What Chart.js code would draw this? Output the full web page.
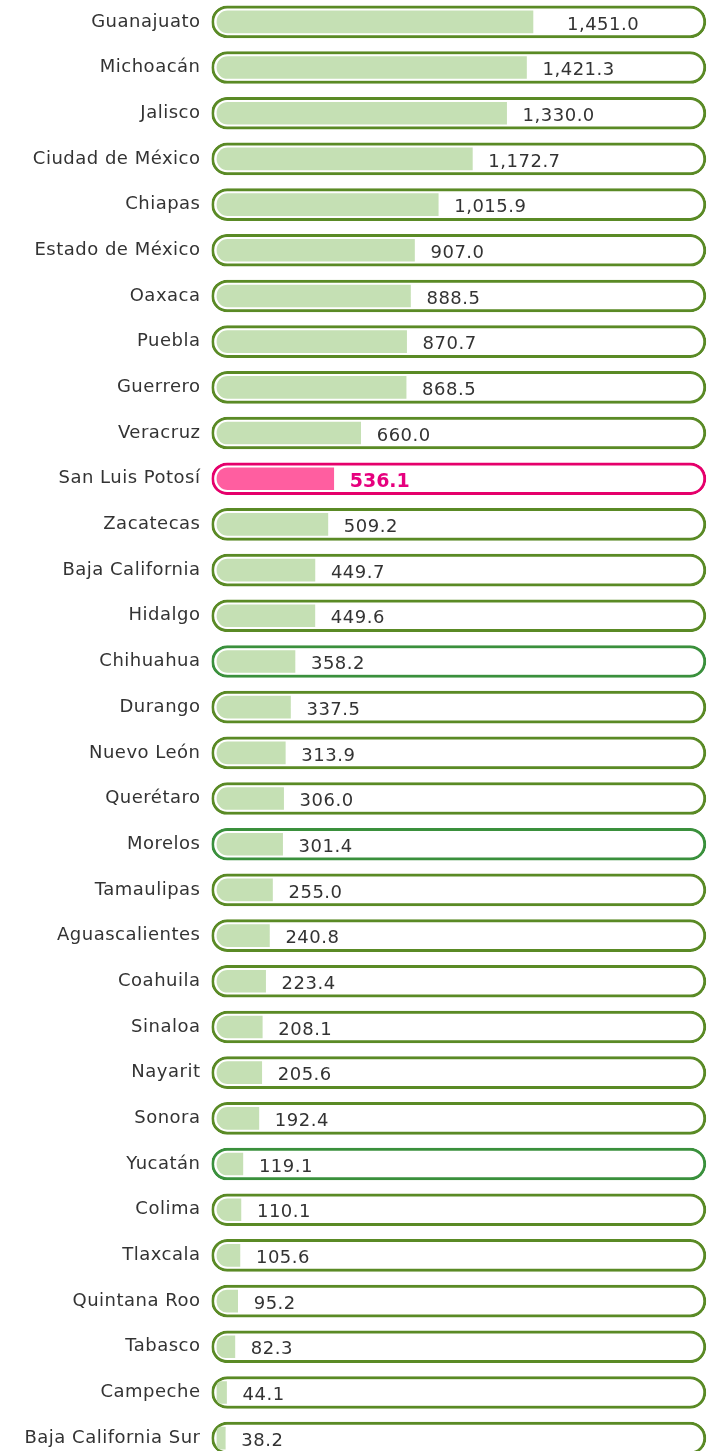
<!DOCTYPE html>
<html>
<head>
<meta charset="utf-8">
<script src="https://cdn.jsdelivr.net/npm/chart.js@4"></script>
<style>
  html, body { margin: 0; padding: 0; background: #fff; overflow: hidden; }
  .wrap { position: absolute; left: 0; top: -1px; width: 707px; height: 1462px; }
</style>
</head>
<body>
<div class="wrap"><canvas id="chartStates"></canvas></div>
<script>
const states = [
  "Guanajuato", "Michoacán", "Jalisco", "Ciudad de México", "Chiapas",
  "Estado de México", "Oaxaca", "Puebla", "Guerrero", "Veracruz",
  "San Luis Potosí", "Zacatecas", "Baja California", "Hidalgo", "Chihuahua",
  "Durango", "Nuevo León", "Querétaro", "Morelos", "Tamaulipas",
  "Aguascalientes", "Coahuila", "Sinaloa", "Nayarit", "Sonora",
  "Yucatán", "Colima", "Tlaxcala", "Quintana Roo", "Tabasco",
  "Campeche", "Baja California Sur",
];
const values = [
  1451.0, 1421.3, 1330.0, 1172.7, 1015.9,
  907.0, 888.5, 870.7, 868.5, 660.0,
  536.1, 509.2, 449.7, 449.6, 358.2,
  337.5, 313.9, 306.0, 301.4, 255.0,
  240.8, 223.4, 208.1, 205.6, 192.4,
  119.1, 110.1, 105.6, 95.2, 82.3,
  44.1, 38.2,
];
const highlight = "San Luis Potosí";
const brightRim = ["Chihuahua", "Morelos", "Yucatán"];
const trackMin = -25;
const trackMax = 2245;

const fontFamily = "'DejaVu Sans', sans-serif";
const fmt = (v) => v.toLocaleString("en-US", { minimumFractionDigits: 1, maximumFractionDigits: 1 });

// espaciado de letras para acercarse a la tipografía ancha del original
const spacing = {
  id: "spacing",
  beforeDraw(chart) {
    chart.ctx.letterSpacing = "0.5px";
  },
  beforeDatasetsDraw(chart) {
    chart.ctx.letterSpacing = "0px";
  },
};

// etiquetas de valor a la derecha de cada barra
const valueLabels = {
  id: "valueLabels",
  afterDatasetsDraw(chart) {
    const ctx = chart.ctx;
    const meta = chart.getDatasetMeta(0);
    ctx.save();
    ctx.textBaseline = "middle";
    ctx.textAlign = "left";
    meta.data.forEach((bar, i) => {
      const hot = states[i] === highlight;
      ctx.font = hot ? "bold 19px " + fontFamily : "18px " + fontFamily;
      ctx.letterSpacing = hot ? "0px" : "0.5px";
      ctx.fillStyle = hot ? "#e6007e" : "#333333";
      const shift = i === 0 ? 34 : 16;
      ctx.fillText(fmt(values[i]), bar.x + shift, bar.y + 3);
    });
    ctx.letterSpacing = "0px";
    ctx.restore();
  },
};

const ctx = document.getElementById("chartStates").getContext("2d");

const chartStates = new Chart(ctx, {
  type: "bar",
  data: {
    labels: states,
    datasets: [
      {
        label: "valor",
        data: values,
        order: 0,
        grouped: false,
        barThickness: 22,
        backgroundColor: states.map((s) => (s === highlight ? "#ff5ea0" : "#c5e0b4")),
        borderWidth: 0,
        borderSkipped: false,
        borderRadius: { topLeft: 11, bottomLeft: 11, topRight: 0, bottomRight: 0 },
      },
      {
        label: "pista",
        data: states.map(() => [trackMin, trackMax]),
        order: 1,
        grouped: false,
        barThickness: 32,
        backgroundColor: "#ffffff",
        borderColor: states.map((s) =>
          s === highlight ? "#e5006b" : brightRim.includes(s) ? "#3a903c" : "#5a8a25"
        ),
        borderWidth: 3,
        borderSkipped: false,
        borderRadius: { topLeft: 16, topRight: 16, bottomLeft: 16, bottomRight: 16 },
      },
    ],
  },
  options: {
    indexAxis: "y",
    responsive: true,
    maintainAspectRatio: false,
    animation: false,
    layout: { padding: 0 },
    plugins: {
      legend: { display: false },
      tooltip: { enabled: false },
    },
    scales: {
      x: {
        display: false,
        min: trackMin,
        max: 2250,
      },
      y: {
        border: { display: false },
        grid: { display: false, drawTicks: false },
        ticks: {
          padding: 11,
          color: "#333333",
          font: { family: fontFamily, size: 18 },
        },
        afterFit(scale) {
          scale.width = 211.5;
          scale.paddingTop = 0;
          scale.paddingBottom = 0;
        },
      },
    },
  },
  plugins: [spacing, valueLabels],
});
</script>
</body>
</html>
